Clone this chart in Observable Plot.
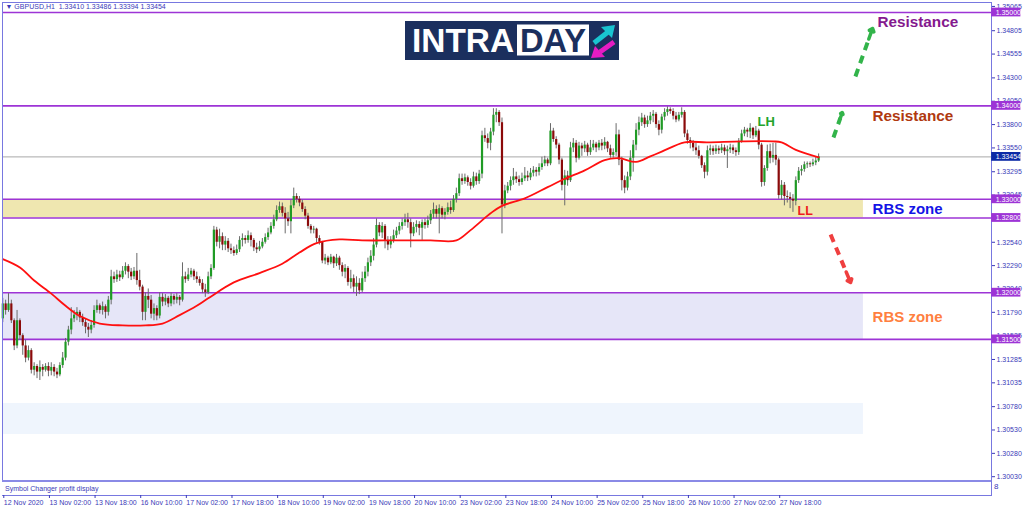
<!DOCTYPE html>
<html><head><meta charset="utf-8">
<script src="https://cdn.jsdelivr.net/npm/d3@7"></script>
<script src="https://cdn.jsdelivr.net/npm/@observablehq/plot@0.6"></script>
<style>
body{margin:0;background:#fff;}
#wrap{position:relative;width:1024px;height:511px;overflow:hidden;font-family:"Liberation Sans",Arial,sans-serif;}
#wrap svg.plot{position:absolute;left:0;top:0;}
#sub{position:absolute;left:2px;top:480px;width:989px;height:15px;background:#fff;border-top:2px solid #8a8ae6;box-sizing:border-box;}
#sub span{position:absolute;left:3px;top:3px;font-size:7px;color:#3a3ab8;white-space:nowrap;}
#logo{position:absolute;left:405px;top:21px;}
#eight{position:absolute;left:994px;top:482px;font-size:8px;color:#3a3ab8;}
</style></head>
<body><div id="wrap"></div>
<script>
// ---------- data ----------
const xLabels = ["12 Nov 2020","13 Nov 02:00","13 Nov 18:00","16 Nov 10:00","17 Nov 02:00","17 Nov 18:00","18 Nov 10:00","19 Nov 02:00","19 Nov 18:00","20 Nov 10:00","23 Nov 02:00","23 Nov 18:00","24 Nov 10:00","25 Nov 02:00","25 Nov 18:00","26 Nov 10:00","27 Nov 02:00","27 Nov 18:00"];
const xTickBars = [0,16,32,48,64,80,96,112,128,144,160,176,192,208,224,240,256,272];
const yTicks = [1.35065,1.34805,1.34555,1.34300,1.34050,1.33800,1.33550,1.33295,1.33045,1.32540,1.32290,1.32040,1.31790,1.31535,1.31285,1.31035,1.30780,1.30530,1.30280,1.30030];
const levels = [1.35000,1.34000,1.33000,1.32800,1.32000,1.31500];
const lastPrice = 1.33454;

const open = [
1.3172,1.3188,1.3181,1.3188,1.3170,1.3143,1.3170,1.3154,1.3143,1.3130,
1.3138,1.3117,1.3121,1.3115,1.3120,1.3117,1.3121,1.3116,1.3120,1.3115,
1.3112,1.3122,1.3130,1.3147,1.3160,1.3172,1.3176,1.3179,1.3173,1.3168,
1.3163,1.3160,1.3165,1.3181,1.3186,1.3181,1.3185,1.3179,1.3192,1.3217,
1.3214,1.3219,1.3216,1.3223,1.3228,1.3222,1.3217,1.3223,1.3213,1.3206,
1.3179,1.3196,1.3192,1.3177,1.3183,1.3175,1.3195,1.3190,1.3194,1.3188,
1.3196,1.3192,1.3195,1.3192,1.3217,1.3214,1.3219,1.3223,1.3217,1.3214,
1.3210,1.3203,1.3200,1.3217,1.3226,1.3267,1.3254,1.3260,1.3251,1.3255,
1.3247,1.3245,1.3242,1.3246,1.3256,1.3258,1.3256,1.3261,1.3256,1.3248,
1.3246,1.3249,1.3254,1.3259,1.3264,1.3271,1.3278,1.3288,1.3292,1.3285,
1.3279,1.3276,1.3293,1.3303,1.3300,1.3296,1.3289,1.3282,1.3271,1.3267,
1.3268,1.3258,1.3254,1.3234,1.3237,1.3232,1.3238,1.3231,1.3237,1.3229,
1.3222,1.3226,1.3211,1.3215,1.3206,1.3210,1.3202,1.3215,1.3222,1.3232,
1.3239,1.3251,1.3272,1.3264,1.3271,1.3256,1.3251,1.3256,1.3261,1.3266,
1.3271,1.3275,1.3278,1.3275,1.3263,1.3270,1.3273,1.3269,1.3275,1.3272,
1.3277,1.3284,1.3289,1.3284,1.3290,1.3283,1.3286,1.3291,1.3288,1.3300,
1.3306,1.3322,1.3319,1.3323,1.3318,1.3314,1.3324,1.3319,1.3327,1.3368,
1.3365,1.3360,1.3372,1.3390,1.3393,1.3382,1.3294,1.3309,1.3314,1.3320,
1.3324,1.3321,1.3318,1.3322,1.3325,1.3323,1.3328,1.3331,1.3329,1.3334,
1.3338,1.3342,1.3338,1.3373,1.3364,1.3358,1.3342,1.3315,1.3325,1.3320,
1.3355,1.3360,1.3344,1.3357,1.3354,1.3358,1.3350,1.3355,1.3359,1.3355,
1.3360,1.3357,1.3361,1.3354,1.3347,1.3350,1.3369,1.3342,1.3320,1.3312,
1.3324,1.3344,1.3358,1.3374,1.3382,1.3387,1.3380,1.3384,1.3389,1.3391,
1.3380,1.3374,1.3388,1.3393,1.3396,1.3394,1.3389,1.3385,1.3390,1.3393,
1.3370,1.3363,1.3360,1.3355,1.3352,1.3346,1.3336,1.3329,1.3352,1.3354,
1.3351,1.3354,1.3352,1.3355,1.3351,1.3353,1.3355,1.3352,1.3350,1.3362,
1.3370,1.3374,1.3372,1.3376,1.3368,1.3373,1.3358,1.3318,1.3333,1.3351,
1.3344,1.3347,1.3342,1.3304,1.3315,1.3303,1.3302,1.3300,1.3298,1.3320,
1.3330,1.3332,1.3337,1.3338,1.3337,1.3339,1.3341];
const high = [
1.3194,1.3192,1.3199,1.3192,1.3172,1.3181,1.3172,1.3156,1.3149,1.3143,
1.3140,1.3125,1.3123,1.3127,1.3123,1.3124,1.3125,1.3125,1.3123,1.3119,
1.3125,1.3136,1.3151,1.3164,1.3184,1.3181,1.3184,1.3181,1.3177,1.3172,
1.3167,1.3170,1.3186,1.3192,1.3188,1.3190,1.3187,1.3196,1.3224,1.3222,
1.3224,1.3223,1.3228,1.3232,1.3230,1.3226,1.3227,1.3242,1.3224,1.3208,
1.3200,1.3204,1.3197,1.3188,1.3186,1.3200,1.3199,1.3198,1.3196,1.3200,
1.3198,1.3199,1.3197,1.3232,1.3222,1.3226,1.3226,1.3225,1.3222,1.3217,
1.3214,1.3209,1.3222,1.3230,1.3271,1.3270,1.3268,1.3264,1.3260,1.3258,
1.3252,1.3249,1.3251,1.3260,1.3263,1.3261,1.3266,1.3264,1.3258,1.3253,
1.3255,1.3258,1.3263,1.3269,1.3275,1.3283,1.3293,1.3297,1.3296,1.3291,
1.3286,1.3299,1.3312,1.3306,1.3303,1.3299,1.3292,1.3285,1.3273,1.3271,
1.3269,1.3261,1.3255,1.3241,1.3239,1.3241,1.3239,1.3241,1.3239,1.3232,
1.3230,1.3228,1.3224,1.3219,1.3217,1.3215,1.3222,1.3228,1.3237,1.3245,
1.3258,1.3279,1.3275,1.3275,1.3273,1.3260,1.3260,1.3267,1.3270,1.3275,
1.3279,1.3284,1.3285,1.3279,1.3275,1.3277,1.3276,1.3278,1.3279,1.3282,
1.3288,1.3296,1.3293,1.3294,1.3292,1.3290,1.3296,1.3298,1.3304,1.3312,
1.3327,1.3327,1.3327,1.3325,1.3322,1.3329,1.3328,1.3331,1.3373,1.3376,
1.3370,1.3376,1.3397,1.3397,1.3395,1.3387,1.3315,1.3318,1.3324,1.3333,
1.3329,1.3325,1.3328,1.3334,1.3330,1.3333,1.3335,1.3334,1.3338,1.3345,
1.3346,1.3344,1.3381,1.3376,1.3367,1.3360,1.3344,1.3331,1.3330,1.3361,
1.3365,1.3363,1.3361,1.3360,1.3362,1.3360,1.3363,1.3363,1.3361,1.3363,
1.3364,1.3366,1.3362,1.3358,1.3354,1.3381,1.3374,1.3345,1.3325,1.3329,
1.3352,1.3363,1.3381,1.3388,1.3392,1.3390,1.3389,1.3393,1.3395,1.3393,
1.3384,1.3391,1.3397,1.3399,1.3398,1.3397,1.3393,1.3393,1.3398,1.3395,
1.3374,1.3366,1.3363,1.3360,1.3357,1.3347,1.3339,1.3357,1.3358,1.3357,
1.3358,1.3357,1.3359,1.3358,1.3357,1.3359,1.3358,1.3355,1.3365,1.3374,
1.3377,1.3376,1.3381,1.3377,1.3378,1.3375,1.3360,1.3336,1.3358,1.3359,
1.3360,1.3360,1.3344,1.3320,1.3318,1.3309,1.3307,1.3305,1.3324,1.3334,
1.3336,1.3340,1.3340,1.3340,1.3343,1.3345,1.33486];
const low = [
1.3168,1.3176,1.3179,1.3167,1.3138,1.3140,1.3149,1.3133,1.3125,1.3127,
1.3113,1.3111,1.3108,1.3106,1.3110,1.3115,1.3110,1.3111,1.3110,1.3108,
1.3110,1.3119,1.3127,1.3143,1.3155,1.3168,1.3170,1.3168,1.3164,1.3156,
1.3152,1.3156,1.3162,1.3178,1.3177,1.3176,1.3172,1.3175,1.3187,1.3210,
1.3211,1.3212,1.3214,1.3219,1.3215,1.3213,1.3214,1.3208,1.3202,1.3170,
1.3170,1.3183,1.3172,1.3170,1.3170,1.3172,1.3185,1.3186,1.3184,1.3185,
1.3187,1.3188,1.3186,1.3190,1.3210,1.3212,1.3216,1.3213,1.3210,1.3207,
1.3199,1.3195,1.3198,1.3214,1.3224,1.3249,1.3247,1.3245,1.3245,1.3243,
1.3241,1.3239,1.3240,1.3243,1.3249,1.3252,1.3253,1.3249,1.3244,1.3242,
1.3244,1.3247,1.3252,1.3256,1.3262,1.3268,1.3276,1.3285,1.3281,1.3263,
1.3271,1.3263,1.3290,1.3296,1.3292,1.3286,1.3278,1.3268,1.3263,1.3263,
1.3253,1.3251,1.3231,1.3230,1.3229,1.3230,1.3226,1.3228,1.3224,1.3217,
1.3215,1.3207,1.3204,1.3200,1.3196,1.3198,1.3200,1.3211,1.3217,1.3228,
1.3234,1.3248,1.3260,1.3258,1.3247,1.3245,1.3247,1.3253,1.3258,1.3262,
1.3267,1.3271,1.3269,1.3248,1.3260,1.3264,1.3261,1.3256,1.3268,1.3269,
1.3273,1.3279,1.3279,1.3263,1.3279,1.3278,1.3283,1.3284,1.3286,1.3296,
1.3303,1.3315,1.3316,1.3314,1.3310,1.3312,1.3315,1.3316,1.3322,1.3361,
1.3354,1.3352,1.3368,1.3382,1.3378,1.3263,1.3290,1.3306,1.3309,1.3315,
1.3317,1.3314,1.3315,1.3319,1.3319,1.3320,1.3324,1.3324,1.3325,1.3331,
1.3335,1.3335,1.3336,1.3361,1.3354,1.3337,1.3309,1.3293,1.3314,1.3318,
1.3350,1.3339,1.3342,1.3346,1.3350,1.3346,1.3347,1.3352,1.3350,1.3352,
1.3352,1.3353,1.3350,1.3344,1.3344,1.3346,1.3336,1.3309,1.3306,1.3309,
1.3320,1.3329,1.3352,1.3368,1.3378,1.3376,1.3377,1.3380,1.3382,1.3376,
1.3368,1.3370,1.3384,1.3389,1.3391,1.3385,1.3382,1.3383,1.3387,1.3366,
1.3359,1.3354,1.3351,1.3347,1.3343,1.3333,1.3322,1.3325,1.3347,1.3347,
1.3348,1.3348,1.3349,1.3347,1.3333,1.3349,1.3348,1.3346,1.3347,1.3360,
1.3367,1.3366,1.3365,1.3364,1.3366,1.3353,1.3313,1.3314,1.3330,1.3338,
1.3339,1.3336,1.3300,1.3299,1.3293,1.3296,1.3290,1.3286,1.3293,1.3317,
1.3325,1.3329,1.3333,1.3334,1.3335,1.3336,1.33394];
const close = [
1.3188,1.3181,1.3188,1.3170,1.3143,1.3170,1.3154,1.3143,1.3130,1.3138,
1.3117,1.3121,1.3115,1.3120,1.3117,1.3121,1.3116,1.3120,1.3115,1.3112,
1.3122,1.3130,1.3147,1.3160,1.3172,1.3176,1.3179,1.3173,1.3168,1.3163,
1.3160,1.3165,1.3181,1.3186,1.3181,1.3185,1.3179,1.3192,1.3217,1.3214,
1.3219,1.3216,1.3223,1.3228,1.3222,1.3217,1.3223,1.3213,1.3206,1.3179,
1.3196,1.3192,1.3177,1.3183,1.3175,1.3195,1.3190,1.3194,1.3188,1.3196,
1.3192,1.3195,1.3192,1.3217,1.3214,1.3219,1.3223,1.3217,1.3214,1.3210,
1.3203,1.3200,1.3217,1.3226,1.3267,1.3254,1.3260,1.3251,1.3255,1.3247,
1.3245,1.3242,1.3246,1.3256,1.3258,1.3256,1.3261,1.3256,1.3248,1.3246,
1.3249,1.3254,1.3259,1.3264,1.3271,1.3278,1.3288,1.3292,1.3285,1.3279,
1.3276,1.3293,1.3303,1.3300,1.3296,1.3289,1.3282,1.3271,1.3267,1.3268,
1.3258,1.3254,1.3234,1.3237,1.3232,1.3238,1.3231,1.3237,1.3229,1.3222,
1.3226,1.3211,1.3215,1.3206,1.3210,1.3202,1.3215,1.3222,1.3232,1.3239,
1.3251,1.3272,1.3264,1.3271,1.3256,1.3251,1.3256,1.3261,1.3266,1.3271,
1.3275,1.3278,1.3275,1.3263,1.3270,1.3273,1.3269,1.3275,1.3272,1.3277,
1.3284,1.3289,1.3284,1.3290,1.3283,1.3286,1.3291,1.3288,1.3300,1.3306,
1.3322,1.3319,1.3323,1.3318,1.3314,1.3324,1.3319,1.3327,1.3368,1.3365,
1.3360,1.3372,1.3390,1.3393,1.3382,1.3294,1.3309,1.3314,1.3320,1.3324,
1.3321,1.3318,1.3322,1.3325,1.3323,1.3328,1.3331,1.3329,1.3334,1.3338,
1.3342,1.3338,1.3373,1.3364,1.3358,1.3342,1.3315,1.3325,1.3320,1.3355,
1.3360,1.3344,1.3357,1.3354,1.3358,1.3350,1.3355,1.3359,1.3355,1.3360,
1.3357,1.3361,1.3354,1.3347,1.3350,1.3369,1.3342,1.3320,1.3312,1.3324,
1.3344,1.3358,1.3374,1.3382,1.3387,1.3380,1.3384,1.3389,1.3391,1.3380,
1.3374,1.3388,1.3393,1.3396,1.3394,1.3389,1.3385,1.3390,1.3393,1.3370,
1.3363,1.3360,1.3355,1.3352,1.3346,1.3336,1.3329,1.3352,1.3354,1.3351,
1.3354,1.3352,1.3355,1.3351,1.3353,1.3355,1.3352,1.3350,1.3362,1.3370,
1.3374,1.3372,1.3376,1.3368,1.3373,1.3358,1.3318,1.3333,1.3351,1.3344,
1.3347,1.3342,1.3304,1.3315,1.3303,1.3302,1.3300,1.3298,1.3320,1.3330,
1.3332,1.3337,1.3338,1.3337,1.3339,1.3341,1.33454];

// moving average: bar index, value
const maBar = [0,6,11,17,22,27,34,42,50,56,62,68,72,81,90,98,104,110,118,126,138,150,159,164,171,175,183,191,197,204,211,216,222,227,231,239,247,259,270,273,278,286];
const maVal = [1.3236,1.3227,1.3213,1.3199,1.3186,1.3175,1.3167,1.3165,1.3165,1.3167,1.3176,1.3186,1.3194,1.3211,1.3221,1.3231,1.3243,1.3253,1.3257,1.3256,1.3256,1.3256,1.3256,1.3267,1.3285,1.3293,1.3301,1.3313,1.3322,1.3331,1.3342,1.3344,1.3340,1.3346,1.3351,1.3361,1.3361,1.3362,1.3362,1.3361,1.3353,1.3345];

// zones (price bands) drawn by the analyst
const zoneLo = [1.32800, 1.31500, 1.30482];
const zoneHi = [1.33000, 1.32000, 1.30814];
const zoneEndBar = 301.7;

// annotations
const noteText = ["Resistance","Resistance","LH","LL","RBS zone","RBS zone"];
const noteBar  = [306.6, 304.9, 264.6, 278.6, 304.9, 304.9];
const notePrice= [1.34893, 1.33892, 1.33833, 1.32875, 1.32896, 1.31735];
const arrowFromBar = [298.9, 291.2, 290.2];
const arrowFromPrice = [1.34315, 1.33662, 1.32623];
const arrowToBar = [304.9, 294.3, 297.2];
const arrowToPrice = [1.34829, 1.33929, 1.32109];

const title = "\u25BC GBPUSD,H1  1.33410 1.33486 1.33394 1.33454";

// ---------- styles ----------
const noteColor = ["#84198e","#b0390f","#23a42b","#ee1c1c","#1414e6","#ff7f40"];
const noteSize = [15.3, 15.3, 13, 12.5, 15, 15];
const arrowColor = ["#32b44a","#32b44a","#ef3f3f"];
const zoneColor = ["#efe7b0","#e6e6f8","#eff5fd"];
const levelColor = "#9d34d6";
const axisColor = "#3a3ab8";
const font = "Liberation Sans, Arial, sans-serif";

const bars = close.map((c, i) => ({i, o: open[i], h: high[i], l: low[i], c}));
const up = bars.filter(d => d.c >= d.o), down = bars.filter(d => d.c < d.o);
const ma = maBar.map((b, k) => ({i: b, v: maVal[k]}));
const xLab = new Map(xTickBars.map((b, k) => [b, xLabels[k]]));
const fmt5 = d3.format(".5f");

const xDom = [-0.1, 346.6];
const yDom = [1.298287, 1.351071];
const xEnd = xDom[1];

const marks = [];
zoneLo.forEach((lo, k) => marks.push(Plot.rect([k], {x1: xDom[0], x2: zoneEndBar, y1: lo, y2: zoneHi[k], fill: zoneColor[k]})));
marks.push(Plot.ruleY(levels, {stroke: levelColor, strokeWidth: 1.6}));
marks.push(Plot.ruleY([lastPrice], {stroke: "#a8a8a8", strokeWidth: 1}));
marks.push(Plot.ruleX(bars, {x: "i", y1: "l", y2: "h", stroke: "#6a6a6a", strokeWidth: 1}));
marks.push(Plot.ruleX(up, {x: "i", y1: "o", y2: "c", stroke: "#1f9b25", strokeWidth: 2.2}));
marks.push(Plot.ruleX(down, {x: "i", y1: "o", y2: "c", stroke: "#8b0a0a", strokeWidth: 2.2}));
marks.push(Plot.line(ma, {x: "i", y: "v", stroke: "#ff1010", strokeWidth: 1.8, curve: "catmull-rom"}));
marks.push(Plot.frame({stroke: "#7878e0"}));
marks.push(Plot.axisY(yTicks, {anchor: "right", label: null, tickFormat: fmt5, tickSize: 3, tickPadding: 2, fontSize: 7, color: axisColor}));
marks.push(Plot.axisX(xTickBars, {anchor: "bottom", label: null, tickFormat: d => xLab.get(d), tickSize: 3, tickPadding: 2, fontSize: 7, textAnchor: "start", dx: 1, color: axisColor}));
// line price labels on the price scale
marks.push(Plot.rect(levels, {x1: xEnd + 0.05, x2: xEnd + 10.3, y1: d => d - 0.00047, y2: d => d + 0.00047, fill: levelColor}));
marks.push(Plot.text(levels, {x: xEnd + 1.45, y: d => d, text: fmt5, fill: "white", fontSize: 7, textAnchor: "start"}));
marks.push(Plot.rect([lastPrice], {x1: xEnd + 0.05, x2: xEnd + 10.3, y1: d => d - 0.00047, y2: d => d + 0.00047, fill: "#0c2aa6"}));
marks.push(Plot.text([lastPrice], {x: xEnd + 1.45, y: d => d, text: fmt5, fill: "white", fontSize: 7, textAnchor: "start"}));
// arrows
arrowFromBar.forEach((b, k) => {
  const tipB = arrowToBar[k], tipP = arrowToPrice[k];
  const hb = tipB - (tipB - b) * 0.22, hp = tipP - (tipP - arrowFromPrice[k]) * 0.22;
  marks.push(Plot.link([k], {x1: b, y1: arrowFromPrice[k], x2: hb, y2: hp, stroke: arrowColor[k], strokeWidth: 4, strokeDasharray: "8,6"}));
  marks.push(Plot.arrow([k], {x1: hb, y1: hp, x2: tipB, y2: tipP, stroke: arrowColor[k], strokeWidth: 3.5, headLength: 11, headAngle: 80}));
});
// annotation text
noteText.forEach((t, k) => marks.push(Plot.text([t], {x: noteBar[k], y: notePrice[k], text: d => d, fill: noteColor[k], fontSize: noteSize[k], fontWeight: "bold", textAnchor: "start", fontFamily: font})));
marks.push(Plot.text([title], {frameAnchor: "top-left", dx: 3, dy: 2, fontSize: 7, fill: axisColor, textAnchor: "start", lineAnchor: "top"}));

const chart = Plot.plot({
  width: 1024, height: 511,
  marginTop: 2, marginBottom: 16, marginLeft: 2, marginRight: 33,
  x: {domain: xDom, label: null},
  y: {domain: yDom, label: null},
  style: {background: "transparent", fontFamily: font, overflow: "visible"},
  marks
});
chart.classList.add("plot");
const wrap = document.getElementById("wrap");
wrap.appendChild(chart);

const sub = document.createElement("div");
sub.id = "sub";
sub.innerHTML = '<span>Symbol Changer profit display</span>';
wrap.appendChild(sub);
const eight = document.createElement("div");
eight.id = "eight"; eight.textContent = "8";
wrap.appendChild(eight);

const logo = document.createElement("div");
logo.id = "logo";
logo.innerHTML = `<svg width="214" height="39" xmlns="http://www.w3.org/2000/svg">
 <rect width="214" height="39" fill="#1b2f5e"/>
 <text x="7" y="31" font-family="Liberation Sans, Arial, sans-serif" font-weight="bold" font-size="33" fill="#ffffff" textLength="102" lengthAdjust="spacingAndGlyphs">INTRA</text>
 <rect x="112" y="3.5" width="72" height="31" fill="#ffffff"/>
 <text x="115" y="31" font-family="Liberation Sans, Arial, sans-serif" font-weight="bold" font-size="33" fill="#1b2f5e" textLength="66" lengthAdjust="spacingAndGlyphs">DAY</text>
 <line x1="189" y1="22" x2="203" y2="11" stroke="#19c4d0" stroke-width="5"/>
 <polygon points="210,4 196,6 207,17" fill="#19c4d0"/>
 <line x1="209" y1="21" x2="195" y2="31" stroke="#e61cc3" stroke-width="5"/>
 <polygon points="186,37 200,36 190,25" fill="#e61cc3"/>
</svg>`;
wrap.appendChild(logo);
</script></body></html>
